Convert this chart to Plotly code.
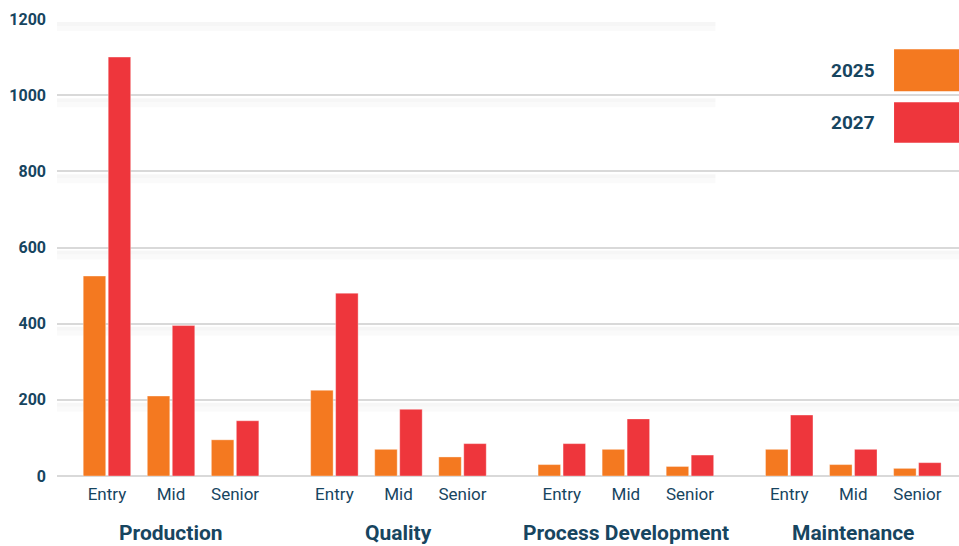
import plotly.graph_objects as go

departments = ["Production", "Quality", "Process Development", "Maintenance"]
levels = ["Entry", "Mid", "Senior"]
years = ["2025", "2027"]
values_2025 = [525, 210, 95, 225, 70, 50, 30, 70, 25, 70, 30, 20]
values_2027 = [1100, 395, 145, 480, 175, 85, 85, 150, 55, 160, 70, 35]
y_ticks = [0, 200, 400, 600, 800, 1000, 1200]

colors = ["#F47920", "#EE363C"]
text_color = "#17455F"
GROUP_STEP = 3.55

xs = [g * GROUP_STEP + l for g in range(len(departments)) for l in range(len(levels))]
tick_text = [lv for _ in departments for lv in levels]

fig = go.Figure()
for name, vals, col in zip(years, [values_2025, values_2027], colors):
    fig.add_trace(go.Bar(
        x=xs, y=vals, name=name,
        marker=dict(color=col, line=dict(color="rgba(255,255,255,0.35)", width=1)),
        showlegend=False,
    ))

annotations = []
for g, dep in enumerate(departments):
    annotations.append(dict(
        x=g * GROUP_STEP + 1, y=-0.125, xref="x", yref="paper",
        text=dep, showarrow=False, yanchor="middle",
        font=dict(family="Roboto", size=21, color=text_color, weight=700),
    ))

shapes = []
# soft shadows beneath the gridlines
for t in y_ticks:
    for (p0, p1, a) in [(-3, -7, 0.035), (-7, -12, 0.02)]:
        shapes.append(dict(type="rect", xref="paper", yref="y", ysizemode="pixel",
                           yanchor=t, y0=p0, y1=p1, x0=0, x1=1 if t < 800 else 0.73,
                           fillcolor=f"rgba(0,0,0,{a})", line=dict(width=0), layer="below"))

legend_boxes = [(0.934, 0.842), (0.818, 0.729)]
for (y1, y0), name, col in zip(legend_boxes, years, colors):
    shapes.append(dict(type="rect", xref="paper", yref="paper",
                       x0=0.928, x1=1.02, y0=y0, y1=y1,
                       fillcolor=col, line=dict(width=0)))
    annotations.append(dict(
        x=0.909, y=(y0 + y1) / 2, xref="paper", yref="paper",
        text=name, showarrow=False, xanchor="right", yanchor="middle",
        font=dict(family="Roboto", size=19, color=text_color, weight=700),
    ))

fig.update_layout(
    width=959, height=546,
    margin=dict(l=57, r=0, t=19, b=70),
    paper_bgcolor="white", plot_bgcolor="white",
    barmode="group", bargap=0.22, bargroupgap=0.1,
    annotations=annotations, shapes=shapes,
    showlegend=False,
)
fig.update_xaxes(
    range=[-0.78, 13.3], tickmode="array", tickvals=xs, ticktext=tick_text,
    showgrid=False, zeroline=False, showline=False, ticks="",
    ticklabelstandoff=6,
    tickfont=dict(family="Roboto", size=17, color=text_color),
)
fig.update_yaxes(
    range=[0, 1200], tickvals=y_ticks, showgrid=True, gridcolor="#D9D9D9", gridwidth=2,
    zeroline=True, zerolinecolor="#D9D9D9", zerolinewidth=2,
    ticks="", ticklabelstandoff=10,
    tickfont=dict(family="Roboto", size=16, color=text_color, weight=700),
)

fig.write_html("out.html")
